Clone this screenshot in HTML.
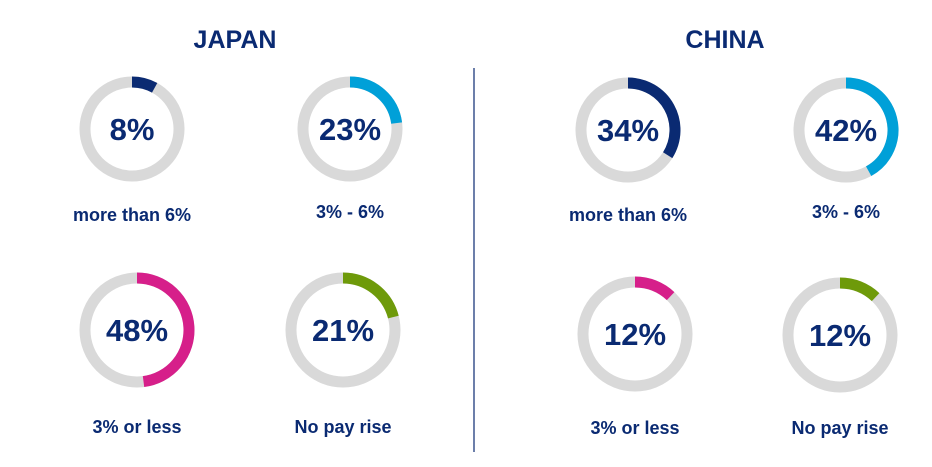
<!DOCTYPE html>
<html><head><meta charset="utf-8"><style>
body{margin:0;background:#fff;width:932px;height:462px;overflow:hidden;font-family:"Liberation Sans",Arial,sans-serif}
</style></head><body>
<svg id="chart" width="932" height="462" xmlns="http://www.w3.org/2000/svg">
<text x="235" y="48" text-anchor="middle" font-size="25" font-weight="bold" fill="#0a2a72">JAPAN</text>
<text x="725" y="48" text-anchor="middle" font-size="25" font-weight="bold" fill="#0a2a72">CHINA</text>
<line x1="474" y1="68" x2="474" y2="452" stroke="#0a2a72" stroke-width="1.2"/>
<g id="donuts"></g>
</svg>
<script>
const categories = ["more than 6%","3% - 6%","3% or less","No pay rise"];
const japanValues = [8,23,48,21];
const chinaValues = [34,42,12,12];
const colors = ["#0a2a72","#00a0d8","#d61f8a","#6e9a0a"];
const NS="http://www.w3.org/2000/svg";
const g=document.getElementById('donuts');
function arc(cx,cy,r,frac){
  if(frac>=1) frac=0.9999;
  const a=frac*2*Math.PI;
  const x=cx+r*Math.sin(a), y=cy-r*Math.cos(a);
  return `M${cx},${cy-r} A${r},${r} 0 ${frac>0.5?1:0} 1 ${x},${y}`;
}
function donut(country,i,v,cx,cy,r,ly){
  const c=document.createElementNS(NS,'circle');
  
  
  c.setAttribute('cx',cx);c.setAttribute('cy',cy);c.setAttribute('r',r);
  c.setAttribute('fill','none');c.setAttribute('stroke','#d9d9d9');c.setAttribute('stroke-width',11);
  g.appendChild(c);
  const p=document.createElementNS(NS,'path');
  
  
  p.setAttribute('d',arc(cx,cy,r,v/100));
  p.setAttribute('fill','none');p.setAttribute('stroke',colors[i]);p.setAttribute('stroke-width',11);
  g.appendChild(p);
  const t=document.createElementNS(NS,'text');
  
  
  t.setAttribute('x',cx);t.setAttribute('y',cy+11);t.setAttribute('text-anchor','middle');
  t.setAttribute('font-size',31);t.setAttribute('font-weight','bold');t.setAttribute('fill','#0a2a72');
  t.textContent=v+'%';g.appendChild(t);
  const l=document.createElementNS(NS,'text');
  
  
  l.setAttribute('x',cx);l.setAttribute('y',ly);l.setAttribute('text-anchor','middle');
  l.setAttribute('font-size',18);l.setAttribute('font-weight','bold');l.setAttribute('fill','#0a2a72');
  l.textContent=categories[i];g.appendChild(l);
}
const jp=[[132,129,47,221],[350,129,47,218],[137,330,52,433],[343,330,52,433]];
const cn=[[628,130,47,221],[846,130,47,218],[635,334,52,434],[840,335,52,434]];
japanValues.forEach((v,i)=>donut('japan',i,v,jp[i][0],jp[i][1],jp[i][2],jp[i][3]));
chinaValues.forEach((v,i)=>donut('china',i,v,cn[i][0],cn[i][1],cn[i][2],cn[i][3]));
</script>
</body></html>
